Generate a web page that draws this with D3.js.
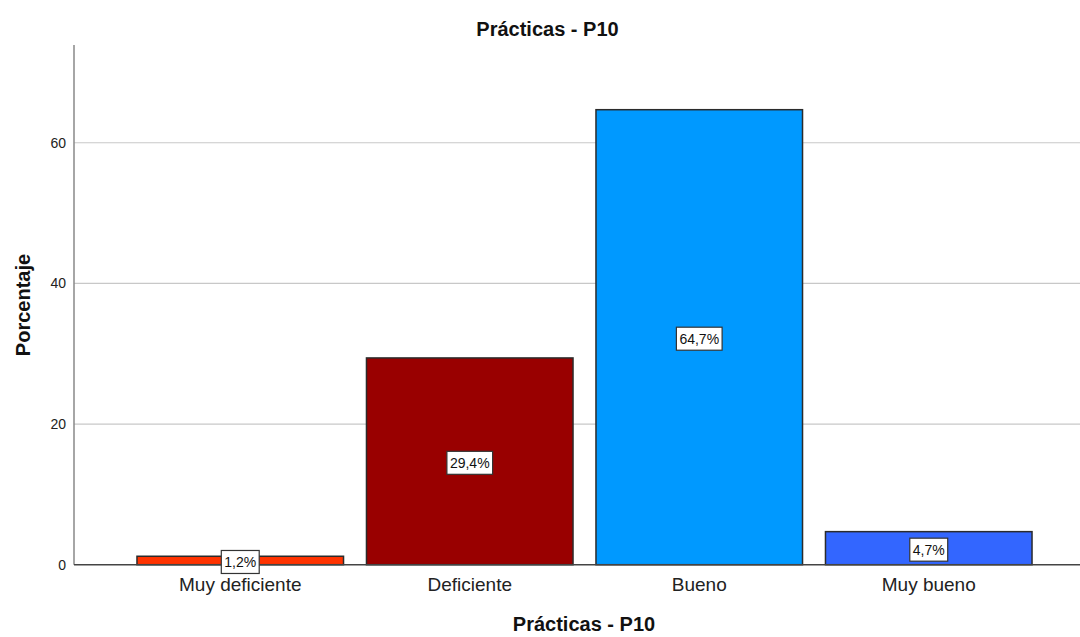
<!DOCTYPE html>
<html>
<head>
<meta charset="utf-8">
<script src="https://cdn.jsdelivr.net/npm/d3@7"></script>
<style>
  html, body { margin: 0; padding: 0; background: #fff; }
  svg { display: block; font-family: Arial, "Liberation Sans", sans-serif; }
</style>
</head>
<body>
<svg id="chart" width="1080" height="637"></svg>
<script>
// Frequency chart: Prácticas - P10
const categories = ["Muy deficiente", "Deficiente", "Bueno", "Muy bueno"];
const percentages = [1.2, 29.4, 64.7, 4.7];
const barColors = ["#FF3300", "#990000", "#0099FF", "#3366FF"];
const yTicks = [0, 20, 40, 60];
const chartTitle = "Prácticas - P10";
const xTitle = "Prácticas - P10";
const yTitle = "Porcentaje";

const svg = d3.select("#chart");

const plotLeft = 74, plotRight = 1094;
const x = d3.scaleBand()
  .domain(categories)
  .range([125.5, 1043.5])
  .paddingInner(0.1)
  .paddingOuter(0.05);

const y = d3.scaleLinear()
  .domain([0, 73.9])
  .range([564.7, 45]);

// Horizontal gridlines
svg.append("g")
  .selectAll("line")
  .data(yTicks.filter(d => d > 0))
  .join("line")
  .attr("x1", plotLeft)
  .attr("x2", plotRight)
  .attr("y1", d => y(d))
  .attr("y2", d => y(d))
  .attr("stroke", "#c8c8c8")
  .attr("stroke-width", 1.2);

// Y axis (labels only, no tick marks)
const yAxis = d3.axisLeft(y).tickValues(yTicks).tickSize(0).tickPadding(8).tickFormat(d3.format("d"));
const yg = svg.append("g").attr("transform", `translate(${plotLeft},0)`).call(yAxis);
yg.select(".domain").remove();
yg.selectAll("text")
  .attr("font-size", 14)
  .attr("font-family", "Arial, 'Liberation Sans', sans-serif")
  .attr("fill", "#222");

// Bars
svg.append("g")
  .selectAll("rect")
  .data(categories)
  .join("rect")
  .attr("x", d => x(d))
  .attr("width", x.bandwidth())
  .attr("y", (d, i) => y(percentages[i]))
  .attr("height", (d, i) => y(0) - y(percentages[i]))
  .attr("fill", (d, i) => barColors[i])
  .attr("stroke", "#2b2b2b")
  .attr("stroke-width", 1.5);

// Vertical axis line and baseline
svg.append("line")
  .attr("x1", plotLeft).attr("x2", plotLeft)
  .attr("y1", y.range()[1]).attr("y2", y(0))
  .attr("stroke", "#888").attr("stroke-width", 1.5);
svg.append("line")
  .attr("x1", plotLeft).attr("x2", plotRight)
  .attr("y1", y(0)).attr("y2", y(0))
  .attr("stroke", "#444").attr("stroke-width", 1.5);

// Category labels
const xAxis = d3.axisBottom(x).tickSize(0).tickPadding(13);
const xg = svg.append("g").attr("transform", `translate(0,${y(0)})`).call(xAxis);
xg.select(".domain").remove();
xg.selectAll("text")
  .attr("font-size", 19)
  .attr("font-family", "Arial, 'Liberation Sans', sans-serif")
  .attr("fill", "#222");

// Value labels in boxed tags at mid-bar
const labels = svg.append("g")
  .selectAll("g")
  .data(categories)
  .join("g")
  .attr("transform", (d, i) => `translate(${x(d) + x.bandwidth() / 2},${y(percentages[i] / 2) + 1.5})`);

labels.append("text")
  .attr("text-anchor", "middle")
  .attr("dy", "0.35em")
  .attr("font-size", 14)
  .attr("fill", "#111")
  .text((d, i) => d3.format(".1f")(percentages[i]).replace(".", ",") + "%");

labels.each(function () {
  const g = d3.select(this);
  const bb = g.select("text").node().getBBox();
  g.insert("rect", "text")
    .attr("x", bb.x - 3)
    .attr("y", -11.5)
    .attr("width", bb.width + 6)
    .attr("height", 23)
    .attr("fill", "#fff")
    .attr("stroke", "#333")
    .attr("stroke-width", 1.2);
});

// Titles
svg.append("text")
  .attr("x", 547.5).attr("y", 36)
  .attr("text-anchor", "middle")
  .attr("font-size", 20).attr("font-weight", "bold")
  .attr("fill", "#111")
  .text(chartTitle);

svg.append("text")
  .attr("x", (plotLeft + plotRight) / 2).attr("y", 631)
  .attr("text-anchor", "middle")
  .attr("font-size", 20).attr("font-weight", "bold")
  .attr("fill", "#111")
  .text(xTitle);

svg.append("text")
  .attr("transform", `translate(30,${305}) rotate(-90)`)
  .attr("text-anchor", "middle")
  .attr("font-size", 20).attr("font-weight", "bold")
  .attr("fill", "#111")
  .text(yTitle);
</script>
</body>
</html>
